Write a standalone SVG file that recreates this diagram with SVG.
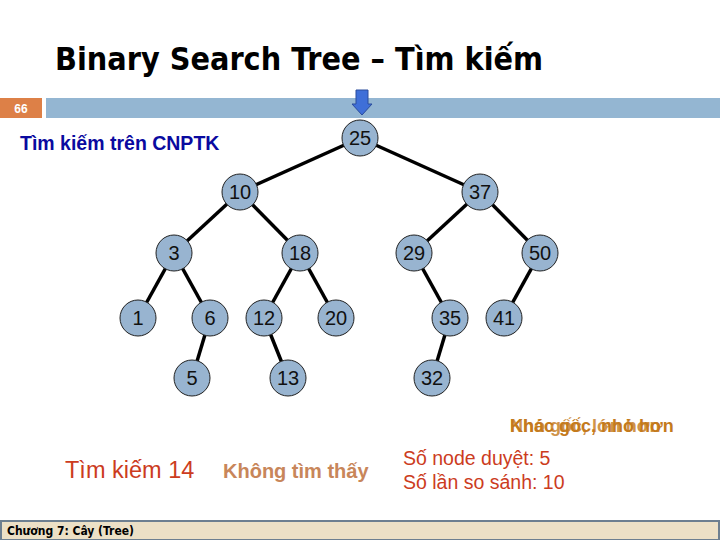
<svg xmlns="http://www.w3.org/2000/svg" width="720" height="540" viewBox="0 0 720 540">
<style>
.edge{stroke:#000;stroke-width:3.5;fill:none}
.node circle{fill:#98b4d0;stroke:#222;stroke-width:1}
.node text{font-family:"Liberation Sans",Arial,sans-serif;font-size:20px;fill:#111;text-anchor:middle;dominant-baseline:central}
.title{font-family:"DejaVu Sans Condensed","DejaVu Sans",sans-serif;font-weight:bold;font-size:32px;fill:#000}
.lbl{font-family:"Liberation Sans",Arial,sans-serif}
</style>
<rect width="720" height="540" fill="#fff"/>
<text class="title" x="55" y="70">Binary Search Tree – Tìm kiếm</text>
<rect x="0" y="98" width="42" height="20" fill="#dd8047"/>
<text class="lbl" x="21" y="113" font-size="12" font-weight="bold" fill="#fff" text-anchor="middle">66</text>
<rect x="46" y="98" width="674" height="20" fill="#94b6d2"/>
<polygon points="356,90 368,90 368,104 372,104 362,115 352,104 356,104" fill="#3f6fd8" stroke="#2a4c9c" stroke-width="1"/>
<text class="lbl" x="20" y="150" font-size="19.5" font-weight="bold" fill="#0a0aa0">Tìm kiếm trên CNPTK</text>
<g id="connectors">
<line class="edge" x1="360" y1="138" x2="240" y2="192"/>
<line class="edge" x1="360" y1="138" x2="480" y2="192"/>
<line class="edge" x1="240" y1="192" x2="174" y2="253"/>
<line class="edge" x1="240" y1="192" x2="300" y2="253"/>
<line class="edge" x1="480" y1="192" x2="414" y2="253"/>
<line class="edge" x1="480" y1="192" x2="540" y2="253"/>
<line class="edge" x1="174" y1="253" x2="138" y2="318"/>
<line class="edge" x1="174" y1="253" x2="210" y2="318"/>
<line class="edge" x1="300" y1="253" x2="264" y2="318"/>
<line class="edge" x1="300" y1="253" x2="336" y2="318"/>
<line class="edge" x1="414" y1="253" x2="450" y2="318"/>
<line class="edge" x1="540" y1="253" x2="504" y2="318"/>
<line class="edge" x1="210" y1="318" x2="192" y2="378"/>
<line class="edge" x1="264" y1="318" x2="288" y2="378"/>
<line class="edge" x1="450" y1="318" x2="432" y2="378"/>
</g>
<g id="n25" class="node"><circle cx="360" cy="138" r="18"/><text x="360" y="138">25</text></g>
<g id="n10" class="node"><circle cx="240" cy="192" r="18"/><text x="240" y="192">10</text></g>
<g id="n37" class="node"><circle cx="480" cy="192" r="18"/><text x="480" y="192">37</text></g>
<g id="n3" class="node"><circle cx="174" cy="253" r="18"/><text x="174" y="253">3</text></g>
<g id="n18" class="node"><circle cx="300" cy="253" r="18"/><text x="300" y="253">18</text></g>
<g id="n29" class="node"><circle cx="414" cy="253" r="18"/><text x="414" y="253">29</text></g>
<g id="n50" class="node"><circle cx="540" cy="253" r="18"/><text x="540" y="253">50</text></g>
<g id="n1" class="node"><circle cx="138" cy="318" r="18"/><text x="138" y="318">1</text></g>
<g id="n6" class="node"><circle cx="210" cy="318" r="18"/><text x="210" y="318">6</text></g>
<g id="n12" class="node"><circle cx="264" cy="318" r="18"/><text x="264" y="318">12</text></g>
<g id="n20" class="node"><circle cx="336" cy="318" r="18"/><text x="336" y="318">20</text></g>
<g id="n35" class="node"><circle cx="450" cy="318" r="18"/><text x="450" y="318">35</text></g>
<g id="n41" class="node"><circle cx="504" cy="318" r="18"/><text x="504" y="318">41</text></g>
<g id="n5" class="node"><circle cx="192" cy="378" r="18"/><text x="192" y="378">5</text></g>
<g id="n13" class="node"><circle cx="288" cy="378" r="18"/><text x="288" y="378">13</text></g>
<g id="n32" class="node"><circle cx="432" cy="378" r="18"/><text x="432" y="378">32</text></g>
<g class="lbl" font-size="18" font-weight="bold" fill="#c47a1c">
<text x="510" y="432">Khác gốc, nhỏ hơn</text>
<text x="510" y="432" opacity="0.8">Nhỏ gốc, lớn hơn</text>
</g>
<text class="lbl" x="65" y="478" font-size="23.5" fill="#cc3c1e">Tìm kiếm 14</text>
<text class="lbl" x="223" y="478" font-size="20" font-weight="bold" fill="#c8865a">Không tìm thấy</text>
<text class="lbl" x="403" y="465" font-size="19.5" fill="#cc3c1e">Số node duyệt: 5</text>
<text class="lbl" x="403" y="489" font-size="19.5" fill="#cc3c1e">Số lần so sánh: 10</text>
<rect x="1" y="521" width="718" height="19" fill="#ece0c6" stroke="#6d7f90" stroke-width="2"/>
<text x="7" y="535" font-family="'DejaVu Sans Condensed','DejaVu Sans',sans-serif" font-size="12" font-weight="bold" fill="#000">Chương 7: Cây (Tree)</text>
</svg>
